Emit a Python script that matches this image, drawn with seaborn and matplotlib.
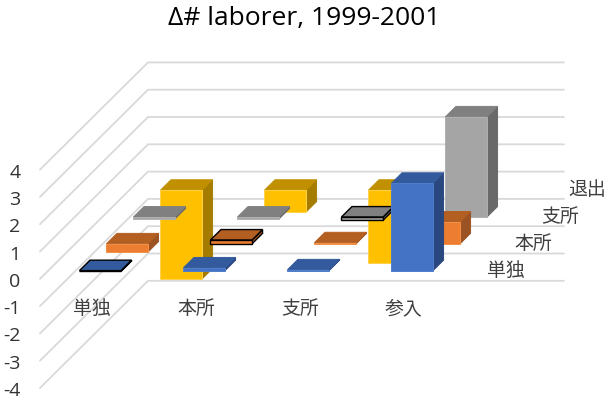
import numpy as np
import pandas as pd
import matplotlib
matplotlib.use("Agg")
import matplotlib.pyplot as plt
import seaborn as sns

categories = ["単独", "本所", "支所", "参入"]
series_names = ["単独", "本所", "支所", "退出"]
v_tandoku = [-0.03, 0.10, 0.03, 3.20]
v_honsho = [-0.30, 0.14, 0.04, 0.80]
v_shisho = [-0.07, -0.07, -0.12, 3.67]
v_taishutsu = [-3.25, -0.80, -2.66, np.nan]
value_ticks = [-4, -3, -2, -1, 0, 1, 2, 3, 4]
front_colors = ["#4472C4", "#ED7D31", "#A5A5A5", "#FFC000"]
top_colors = ["#335A9C", "#B45F22", "#808080", "#C09000"]
side_colors = ["#2B477F", "#9C5323", "#696969", "#A67C00"]
edge_colors = ["#4F7DCB", "#F39047", "#B0B0B0", "#FFD24D"]
outlined = [(0, 0), (1, 1), (2, 2)]

sns.set_theme(style="white", rc={"axes.facecolor": "white", "figure.facecolor": "white"})
plt.rcParams["font.family"] = ["Open Sans", "Noto Sans CJK JP", "DejaVu Sans"]

table = pd.DataFrame(
    {"単独": v_tandoku, "本所": v_honsho, "支所": v_shisho, "退出": v_taishutsu},
    index=categories,
)

W, H = 611, 402
L, R, B, T = 40, 564, 389, 63.2
UX, UZ = 104.0, 27.3
DX, DY = 27.0 / UX, 26.8 / UZ

fig = plt.figure(figsize=(W / 100, H / 100), dpi=100)
ax = fig.add_axes([L / W, 1 - B / H, (R - L) / W, (B - T) / H])
ax.set_xlim(0, (R - L) / UX)
ax.set_ylim(-4, -4 + (B - T) / UZ)


def proj(x, d, z):
    return x + d * DX, z + d * DY


GRID = "#D9D9D9"
for z in value_ticks:
    a, b, c = proj(0, 0, z), proj(0, 4, z), proj(4, 4, z)
    ax.plot([a[0], b[0], c[0]], [a[1], b[1], c[1]], color=GRID, lw=1.3,
            solid_joinstyle="miter", clip_on=False, zorder=1)

BAR_W, BAR_D = 0.40, 0.39


def face(pts, fc, ec, lw, zo):
    xy = np.array([proj(*p) for p in pts])
    ax.fill(xy[:, 0], xy[:, 1], facecolor=fc, edgecolor=ec, linewidth=lw,
            joinstyle="miter", clip_on=False, zorder=zo)


zo = 2
for s in range(len(series_names) - 1, -1, -1):
    for c, cat in enumerate(categories):
        v = table.iloc[c, s]
        if np.isnan(v):
            continue
        x0, x1 = c + 0.5 - BAR_W / 2, c + 0.5 + BAR_W / 2
        d0, d1 = s + 0.5 - BAR_D / 2, s + 0.5 + BAR_D / 2
        lo, hi = min(0, v), max(0, v)
        black = (s, c) in outlined
        ec_s = "black" if black else side_colors[s]
        ec_t = "black" if black else top_colors[s]
        ec_f = "black" if black else edge_colors[s]
        lw = 1.0 if black else 0.7
        face([(x1, d0, lo), (x1, d1, lo), (x1, d1, hi), (x1, d0, hi)], side_colors[s], ec_s, lw, zo)
        face([(x0, d0, hi), (x1, d0, hi), (x1, d1, hi), (x0, d1, hi)], top_colors[s], ec_t, lw, zo)
        face([(x0, d0, lo), (x1, d0, lo), (x1, d0, hi), (x0, d0, hi)], front_colors[s], ec_f, lw, zo)
        zo += 1

ax.set_yticks(value_ticks)
ax.set_yticklabels([str(t) for t in value_ticks], fontsize=14, color="#333333")
ax.tick_params(axis="y", length=0, pad=14)
ax.set_xticks([])
sns.despine(ax=ax, left=True, bottom=True)

for c, cat in enumerate(categories):
    ax.text(c + 0.5, -1.07, cat, ha="center", va="center", fontsize=13.6, color="#404040")
for s, name in enumerate(series_names):
    px, pz = proj(4.35, s + 0.5, -0.16)
    ax.text(px, pz, name, ha="center", va="center", fontsize=13.6, color="#404040", clip_on=False)

fig.text(304 / W, 1 - 19 / H, "Δ# laborer, 1999-2001", ha="center", va="center",
         fontsize=19, color="black")

fig.savefig("out.png", dpi=100)
